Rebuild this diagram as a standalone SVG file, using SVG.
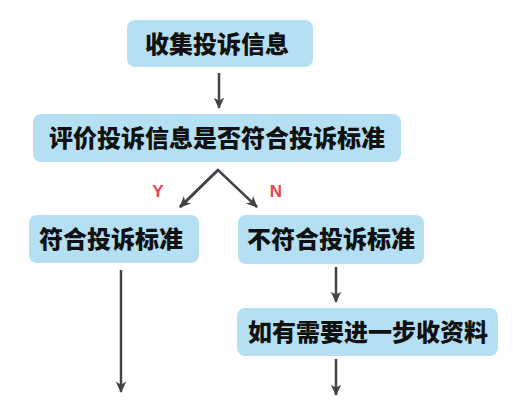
<svg xmlns="http://www.w3.org/2000/svg" width="513" height="416" viewBox="0 0 513 416">
<defs>
<style>
.box{fill:#b5e0f3;}
.t{font-family:"Noto Sans CJK SC","Noto Sans",sans-serif;font-weight:900;font-size:24px;fill:#111;text-anchor:middle;}
.c{stroke:#444;stroke-width:2.5;fill:none;}
.lbl{font-family:"Liberation Sans",Arial,sans-serif;font-weight:bold;font-size:17px;fill:#e8474f;text-anchor:middle;}
</style>
<marker id="ah" viewBox="0 0 12 12" refX="10" refY="6" markerWidth="5" markerHeight="5" orient="auto" markerUnits="strokeWidth">
<path d="M0,1 L11,6 L0,11 L3,6 Z" fill="#444"/>
</marker>
</defs>
<rect width="513" height="416" fill="#fff"/>
<g id="connectors">
<line class="c" x1="219" y1="73" x2="219" y2="108" marker-end="url(#ah)"/>
<polyline class="c" points="180,207 218,170 257,207" marker-end="url(#ah)"/>
<line class="c" x1="218" y1="170" x2="180" y2="207" marker-end="url(#ah)"/>
<line class="c" x1="336" y1="267" x2="336" y2="302" marker-end="url(#ah)"/>
<line class="c" x1="336" y1="359" x2="336" y2="395" marker-end="url(#ah)"/>
<line class="c" x1="121" y1="270" x2="121" y2="392" marker-end="url(#ah)"/>
<text class="lbl" x="158" y="197">Y</text>
<text class="lbl" x="276" y="197">N</text>
</g>
<g id="n1"><rect class="box" x="127" y="20" width="186" height="47" rx="8"/><text class="t" x="217" y="53">收集投诉信息</text></g>
<g id="n2"><rect class="box" x="33" y="114" width="368" height="48" rx="8"/><text class="t" x="217" y="147">评价投诉信息是否符合投诉标准</text></g>
<g id="n3"><rect class="box" x="29" y="215" width="170" height="48" rx="8"/><text class="t" x="111" y="248">符合投诉标准</text></g>
<g id="n4"><rect class="box" x="238" y="215" width="186" height="49" rx="8"/><text class="t" x="331" y="248">不符合投诉标准</text></g>
<g id="n5"><rect class="box" x="237" y="308" width="261" height="48" rx="8"/><text class="t" x="368" y="341">如有需要进一步收资料</text></g>
</svg>
